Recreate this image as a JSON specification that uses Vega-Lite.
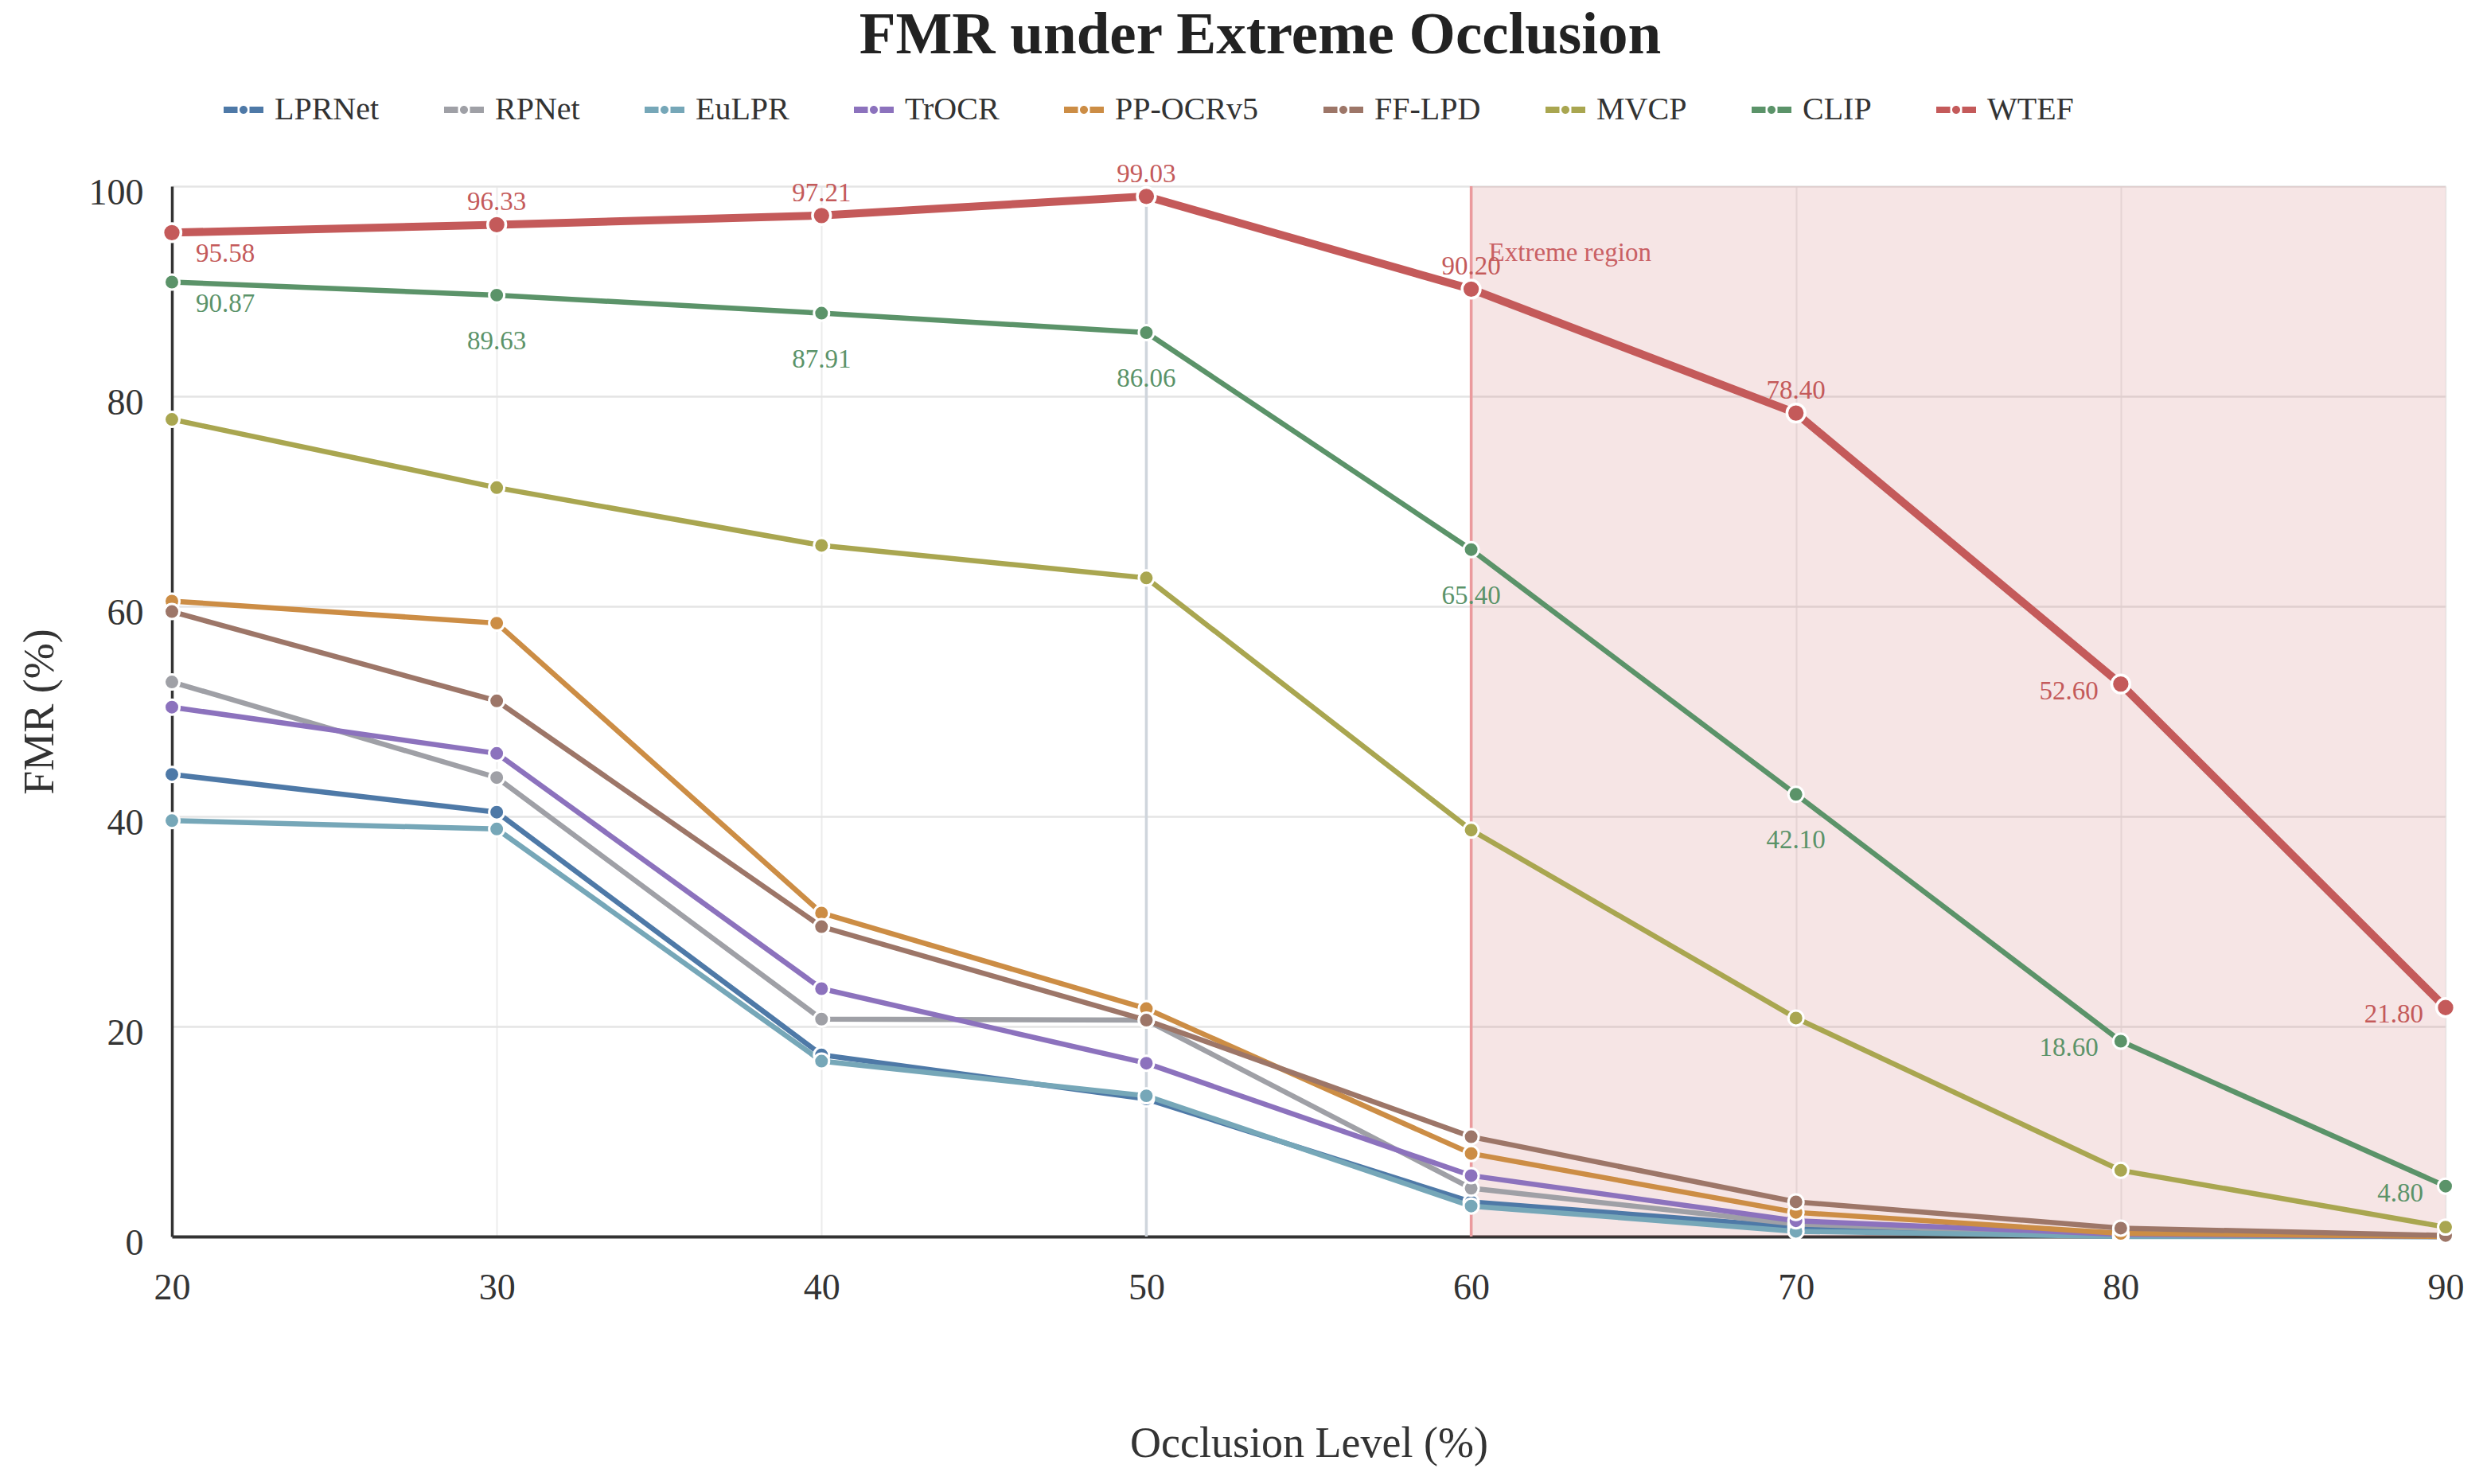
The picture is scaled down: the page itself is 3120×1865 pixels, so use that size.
{
  "$schema": "https://vega.github.io/schema/vega-lite/v6.json",
  "description": "FMR of nine plate recognisers as occlusion rises, with the extreme region shaded.",
  "width": 2857,
  "height": 1320,
  "autosize": {"type": "none"},
  "padding": {"left": 216, "top": 234, "right": 47, "bottom": 311},
  "title": {
    "text": "FMR under Extreme Occlusion",
    "font": "Liberation Serif",
    "fontSize": 75,
    "fontWeight": "bold",
    "color": "#222222",
    "anchor": "middle",
    "baseline": "alphabetic",
    "dx": -61,
    "offset": -29
  },
  "datasets": {
    "fmr": [
      {"model": "LPRNet", "level": 20, "fmr": 44.0},
      {"model": "LPRNet", "level": 30, "fmr": 40.4},
      {"model": "LPRNet", "level": 40, "fmr": 17.3},
      {"model": "LPRNet", "level": 50, "fmr": 13.1},
      {"model": "LPRNet", "level": 60, "fmr": 3.3},
      {"model": "LPRNet", "level": 70, "fmr": 0.9},
      {"model": "LPRNet", "level": 80, "fmr": 0.1},
      {"model": "LPRNet", "level": 90, "fmr": 0.0},
      {"model": "RPNet", "level": 20, "fmr": 52.8},
      {"model": "RPNet", "level": 30, "fmr": 43.7},
      {"model": "RPNet", "level": 40, "fmr": 20.7},
      {"model": "RPNet", "level": 50, "fmr": 20.6},
      {"model": "RPNet", "level": 60, "fmr": 4.6},
      {"model": "RPNet", "level": 70, "fmr": 1.2},
      {"model": "RPNet", "level": 80, "fmr": 0.1},
      {"model": "RPNet", "level": 90, "fmr": 0.0},
      {"model": "EuLPR", "level": 20, "fmr": 39.6},
      {"model": "EuLPR", "level": 30, "fmr": 38.8},
      {"model": "EuLPR", "level": 40, "fmr": 16.7},
      {"model": "EuLPR", "level": 50, "fmr": 13.4},
      {"model": "EuLPR", "level": 60, "fmr": 2.9},
      {"model": "EuLPR", "level": 70, "fmr": 0.5},
      {"model": "EuLPR", "level": 80, "fmr": 0.0},
      {"model": "EuLPR", "level": 90, "fmr": 0.0},
      {"model": "TrOCR", "level": 20, "fmr": 50.4},
      {"model": "TrOCR", "level": 30, "fmr": 46.0},
      {"model": "TrOCR", "level": 40, "fmr": 23.6},
      {"model": "TrOCR", "level": 50, "fmr": 16.5},
      {"model": "TrOCR", "level": 60, "fmr": 5.8},
      {"model": "TrOCR", "level": 70, "fmr": 1.5},
      {"model": "TrOCR", "level": 80, "fmr": 0.2},
      {"model": "TrOCR", "level": 90, "fmr": 0.0},
      {"model": "PP-OCRv5", "level": 20, "fmr": 60.5},
      {"model": "PP-OCRv5", "level": 30, "fmr": 58.4},
      {"model": "PP-OCRv5", "level": 40, "fmr": 30.8},
      {"model": "PP-OCRv5", "level": 50, "fmr": 21.7},
      {"model": "PP-OCRv5", "level": 60, "fmr": 7.9},
      {"model": "PP-OCRv5", "level": 70, "fmr": 2.3},
      {"model": "PP-OCRv5", "level": 80, "fmr": 0.3},
      {"model": "PP-OCRv5", "level": 90, "fmr": 0.0},
      {"model": "FF-LPD", "level": 20, "fmr": 59.5},
      {"model": "FF-LPD", "level": 30, "fmr": 51.0},
      {"model": "FF-LPD", "level": 40, "fmr": 29.5},
      {"model": "FF-LPD", "level": 50, "fmr": 20.6},
      {"model": "FF-LPD", "level": 60, "fmr": 9.5},
      {"model": "FF-LPD", "level": 70, "fmr": 3.3},
      {"model": "FF-LPD", "level": 80, "fmr": 0.8},
      {"model": "FF-LPD", "level": 90, "fmr": 0.1},
      {"model": "MVCP", "level": 20, "fmr": 77.8},
      {"model": "MVCP", "level": 30, "fmr": 71.3},
      {"model": "MVCP", "level": 40, "fmr": 65.8},
      {"model": "MVCP", "level": 50, "fmr": 62.7},
      {"model": "MVCP", "level": 60, "fmr": 38.7},
      {"model": "MVCP", "level": 70, "fmr": 20.8},
      {"model": "MVCP", "level": 80, "fmr": 6.3},
      {"model": "MVCP", "level": 90, "fmr": 0.9},
      {"model": "CLIP", "level": 20, "fmr": 90.87},
      {"model": "CLIP", "level": 30, "fmr": 89.63},
      {"model": "CLIP", "level": 40, "fmr": 87.91},
      {"model": "CLIP", "level": 50, "fmr": 86.06},
      {"model": "CLIP", "level": 60, "fmr": 65.4},
      {"model": "CLIP", "level": 70, "fmr": 42.1},
      {"model": "CLIP", "level": 80, "fmr": 18.6},
      {"model": "CLIP", "level": 90, "fmr": 4.8},
      {"model": "WTEF", "level": 20, "fmr": 95.58},
      {"model": "WTEF", "level": 30, "fmr": 96.33},
      {"model": "WTEF", "level": 40, "fmr": 97.21},
      {"model": "WTEF", "level": 50, "fmr": 99.03},
      {"model": "WTEF", "level": 60, "fmr": 90.2},
      {"model": "WTEF", "level": 70, "fmr": 78.4},
      {"model": "WTEF", "level": 80, "fmr": 52.6},
      {"model": "WTEF", "level": 90, "fmr": 21.8}
    ]
  },
  "data": {"name": "fmr"},
  "layer": [
    {
      "data": {"values": [{"level": 60, "level_end": 90, "fmr": 0, "fmr_end": 100}]},
      "mark": {"type": "rect", "color": "#c44e52", "opacity": 0.15},
      "encoding": {
        "x": {
          "field": "level",
          "type": "quantitative",
          "title": "Occlusion Level (%)",
          "scale": {"domain": [20, 90], "nice": false, "zero": false},
          "axis": {"values": [20, 30, 40, 50, 60, 70, 80, 90], "gridColor": "#ececec", "gridWidth": 2, "labelPadding": 42, "titlePadding": 146, "domainWidth": 4, "labelFlush": false}
        },
        "x2": {"field": "level_end"},
        "y": {
          "field": "fmr",
          "type": "quantitative",
          "title": "FMR (%)",
          "scale": {"domain": [0, 100], "nice": false},
          "axis": {"values": [0, 20, 40, 60, 80, 100], "labelPadding": 36, "titlePadding": 34, "labelOffset": 8, "labelFlush": false}
        },
        "y2": {"field": "fmr_end"}
      }
    },
    {
      "data": {"values": [{"level": 50}]},
      "mark": {"type": "rule", "color": "#cfd5dc", "strokeWidth": 3.5},
      "encoding": {"x": {"field": "level", "type": "quantitative", "title": "Occlusion Level (%)"}}
    },
    {
      "data": {"values": [{"level": 60}]},
      "mark": {"type": "rule", "color": "#eb9a9d", "strokeWidth": 3.5},
      "encoding": {"x": {"field": "level", "type": "quantitative", "title": "Occlusion Level (%)"}}
    },
    {
      "data": {"values": [{"level": 60, "fmr": 93.6, "note": "Extreme region"}]},
      "mark": {"type": "text", "align": "left", "baseline": "middle", "dx": 22, "font": "Liberation Serif", "fontSize": 33, "color": "#c96064"},
      "encoding": {
        "x": {"field": "level", "type": "quantitative", "title": "Occlusion Level (%)"},
        "y": {"field": "fmr", "type": "quantitative", "title": "FMR (%)"},
        "text": {"field": "note"}
      }
    },
    {
      "transform": [{"filter": "datum.model !== 'WTEF'"}],
      "mark": {"type": "line", "strokeWidth": 6.5},
      "encoding": {
        "x": {"field": "level", "type": "quantitative", "title": "Occlusion Level (%)"},
        "y": {"field": "fmr", "type": "quantitative", "title": "FMR (%)"},
        "color": {
          "field": "model",
          "type": "nominal",
          "sort": null,
          "scale": {
            "domain": ["LPRNet", "RPNet", "EuLPR", "TrOCR", "PP-OCRv5", "FF-LPD", "MVCP", "CLIP", "WTEF"],
            "range": ["#4e79a7", "#9fa0a6", "#76a7b8", "#8c72bd", "#cc8d45", "#9d7668", "#a9a650", "#5b9369", "#c45a5a"]
          },
          "legend": {
            "orient": "none",
            "legendX": 65,
            "legendY": -121,
            "direction": "horizontal",
            "columns": 9,
            "title": null,
            "padding": 0,
            "gridAlign": "each",
            "columnPadding": 81,
            "symbolType": "M-1,-0.16H-0.3V0.16H-1Z M0.3,-0.16H1V0.16H0.3Z M-0.2,0A0.2,0.2,0,1,1,0.2,0A0.2,0.2,0,1,1,-0.2,0Z",
            "symbolSize": 2500,
            "symbolStrokeWidth": 0,
            "labelFont": "Liberation Serif",
            "labelFontSize": 40,
            "labelColor": "#333333",
            "labelOffset": 14,
            "labelLimit": 400,
            "encode": {"symbols": {"update": {"fill": {"scale": "color", "field": "value"}, "opacity": {"value": 1}}}}
          }
        },
        "detail": {"field": "model"}
      }
    },
    {
      "transform": [{"filter": "datum.model === 'WTEF'"}],
      "mark": {"type": "line", "strokeWidth": 10},
      "encoding": {
        "x": {"field": "level", "type": "quantitative", "title": "Occlusion Level (%)"},
        "y": {"field": "fmr", "type": "quantitative", "title": "FMR (%)"},
        "color": {"field": "model", "type": "nominal"}
      }
    },
    {
      "transform": [{"filter": "datum.model !== 'WTEF'"}],
      "mark": {"type": "circle", "size": 360, "opacity": 1, "stroke": "white", "strokeWidth": 3},
      "encoding": {
        "x": {"field": "level", "type": "quantitative", "title": "Occlusion Level (%)"},
        "y": {"field": "fmr", "type": "quantitative", "title": "FMR (%)"},
        "color": {"field": "model", "type": "nominal"}
      }
    },
    {
      "transform": [{"filter": "datum.model === 'WTEF'"}],
      "mark": {"type": "circle", "size": 520, "opacity": 1, "stroke": "white", "strokeWidth": 3.5},
      "encoding": {
        "x": {"field": "level", "type": "quantitative", "title": "Occlusion Level (%)"},
        "y": {"field": "fmr", "type": "quantitative", "title": "FMR (%)"},
        "color": {"field": "model", "type": "nominal"}
      }
    },
    {
      "transform": [{"filter": "(datum.model === 'WTEF' || datum.model === 'CLIP') && datum.level === 20"}],
      "mark": {"type": "text", "align": "left", "baseline": "alphabetic", "dx": 30, "dy": 37, "font": "Liberation Serif", "fontSize": 33},
      "encoding": {
        "x": {"field": "level", "type": "quantitative", "title": "Occlusion Level (%)"},
        "y": {"field": "fmr", "type": "quantitative", "title": "FMR (%)"},
        "text": {"field": "fmr", "format": ".2f"},
        "color": {"field": "model", "type": "nominal", "legend": null}
      }
    },
    {
      "transform": [{"filter": "datum.model === 'WTEF' && datum.level >= 30 && datum.level <= 70"}],
      "mark": {"type": "text", "align": "center", "baseline": "alphabetic", "dy": -18, "font": "Liberation Serif", "fontSize": 33},
      "encoding": {
        "x": {"field": "level", "type": "quantitative", "title": "Occlusion Level (%)"},
        "y": {"field": "fmr", "type": "quantitative", "title": "FMR (%)"},
        "text": {"field": "fmr", "format": ".2f"},
        "color": {"field": "model", "type": "nominal", "legend": null}
      }
    },
    {
      "transform": [{"filter": "datum.model === 'CLIP' && datum.level >= 30 && datum.level <= 70"}],
      "mark": {"type": "text", "align": "center", "baseline": "alphabetic", "dy": 68, "font": "Liberation Serif", "fontSize": 33},
      "encoding": {
        "x": {"field": "level", "type": "quantitative", "title": "Occlusion Level (%)"},
        "y": {"field": "fmr", "type": "quantitative", "title": "FMR (%)"},
        "text": {"field": "fmr", "format": ".2f"},
        "color": {"field": "model", "type": "nominal", "legend": null}
      }
    },
    {
      "transform": [{"filter": "(datum.model === 'WTEF' || datum.model === 'CLIP') && datum.level >= 80"}],
      "mark": {"type": "text", "align": "right", "baseline": "alphabetic", "dx": -28, "dy": 19, "font": "Liberation Serif", "fontSize": 33},
      "encoding": {
        "x": {"field": "level", "type": "quantitative", "title": "Occlusion Level (%)"},
        "y": {"field": "fmr", "type": "quantitative", "title": "FMR (%)"},
        "text": {"field": "fmr", "format": ".2f"},
        "color": {"field": "model", "type": "nominal", "legend": null}
      }
    }
  ],
  "config": {
    "font": "Liberation Serif",
    "view": {"stroke": null},
    "axis": {
      "labelFont": "Liberation Serif",
      "titleFont": "Liberation Serif",
      "labelFontSize": 46,
      "titleFontSize": 54,
      "titleFontWeight": "normal",
      "labelColor": "#333333",
      "titleColor": "#333333",
      "ticks": false,
      "domainColor": "#333333",
      "domainWidth": 3.5,
      "gridColor": "#e4e4e4",
      "gridWidth": 2.5
    }
  }
}
